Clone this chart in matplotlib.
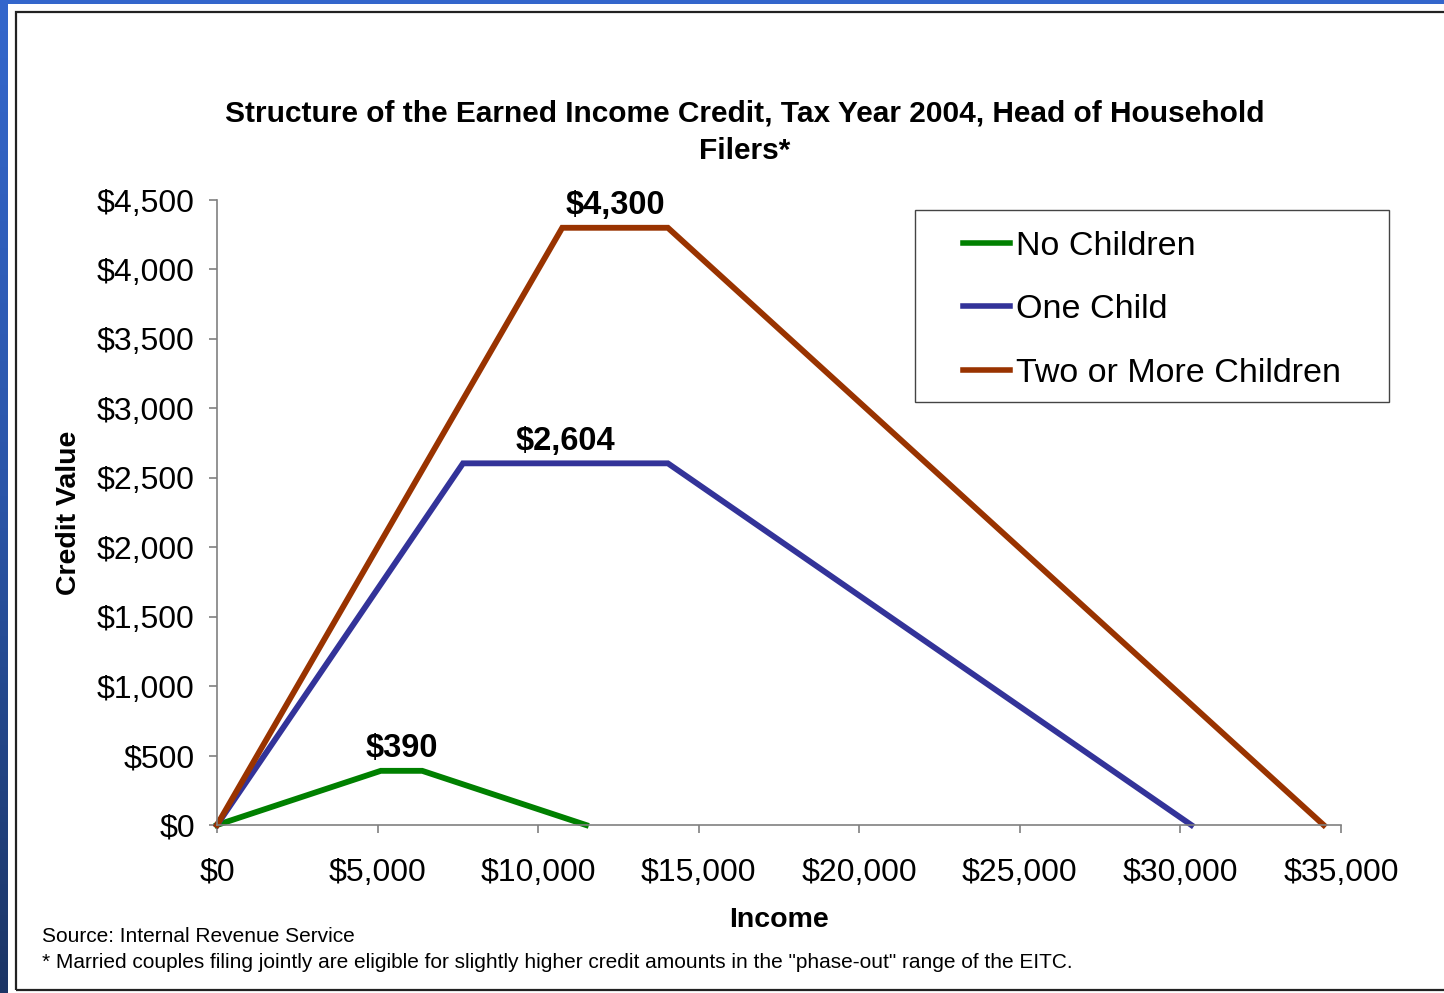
import numpy as np
import matplotlib.pyplot as plt
from matplotlib.patches import Rectangle
from matplotlib.colors import LinearSegmentedColormap
from matplotlib.ticker import FuncFormatter

plt.rcParams['font.family'] = ['Liberation Sans', 'DejaVu Sans']

# EITC 2004 schedule, head of household (income breakpoints -> credit)
series_names = ["No Children", "One Child", "Two or More Children"]
income_none = [0, 5100, 6390, 11490]
credit_none = [0, 390, 390, 0]
income_one = [0, 7660, 14040, 30338]
credit_one = [0, 2604, 2604, 0]
income_two = [0, 10750, 14040, 34458]
credit_two = [0, 4300, 4300, 0]
series_colors = ["#008000", "#333399", "#993300"]

x_ticks = [0, 5000, 10000, 15000, 20000, 25000, 30000, 35000]
y_ticks = [0, 500, 1000, 1500, 2000, 2500, 3000, 3500, 4000, 4500]

W, H = 1444, 993
fig = plt.figure(figsize=(W / 100, H / 100), dpi=100)
fig.patch.set_facecolor("white")


def fx(px):
    return px / W


def fy(py):
    return 1 - py / H


# slide background: blue strip on the left, thin band on top
band = fig.add_axes([0, 0, fx(8), 1])
grad = np.linspace(0, 1, 256).reshape(-1, 1)
cmap = LinearSegmentedColormap.from_list("band", ["#3467cc", "#2a55a8", "#1c3565"])
band.imshow(grad, aspect="auto", cmap=cmap, extent=[0, 1, 0, 1], origin="upper")
band.axis("off")
fig.patches.append(Rectangle((0, fy(4)), 1, fy(0) - fy(4), transform=fig.transFigure,
                             facecolor="#3366cc", edgecolor="none", zorder=0))

# chart frame
fig.patches.append(Rectangle((fx(16), fy(990)), 1.0, fy(12) - fy(990),
                             transform=fig.transFigure, facecolor="none",
                             edgecolor="#222222", linewidth=1.6, zorder=1))

ax = fig.add_axes([fx(217), fy(825), fx(1341) - fx(217), fy(200) - fy(825)])
ax.set_facecolor("none")

lines = []
for xs, ys, c, name in zip([income_none, income_one, income_two],
                           [credit_none, credit_one, credit_two],
                           series_colors, series_names):
    ln, = ax.plot(xs, ys, color=c, linewidth=4.2, label=name,
                  solid_joinstyle="miter", clip_on=False)
    lines.append(ln)
    # peak value label over the middle of the plateau
    mid = (xs[1] + xs[2]) / 2
    ax.annotate(f"${ys[1]:,}", xy=(mid, ys[1]), xytext=(0, 16),
                textcoords="offset points", ha="center", va="center",
                fontsize=23.5, fontweight="bold")

ax.set_xlim(0, 35000)
ax.set_ylim(0, 4500)
ax.set_xticks(x_ticks)
ax.set_yticks(y_ticks)
money = FuncFormatter(lambda v, p: f"${int(v):,}")
ax.xaxis.set_major_formatter(money)
ax.yaxis.set_major_formatter(money)

for side in ["top", "right"]:
    ax.spines[side].set_visible(False)
for side in ["left", "bottom"]:
    ax.spines[side].set_color("#808080")
    ax.spines[side].set_linewidth(1.2)
ax.tick_params(axis="both", colors="#808080", labelcolor="black", labelsize=23,
               length=6, width=1.2, direction="out")
ax.tick_params(axis="x", pad=17.5)
ax.tick_params(axis="y", pad=10)

fig.text(fx(745), fy(132.5), "Structure of the Earned Income Credit, Tax Year 2004, Head of Household\nFilers*",
         ha="center", va="center", fontsize=21.5, fontweight="bold", linespacing=1.42)
fig.text(fx(779), fy(920), "Income", ha="center", va="center", fontsize=20.5, fontweight="bold")
fig.text(fx(69), fy(513), "Credit Value", ha="center", va="center", rotation=90,
         fontsize=20.5, fontweight="bold")
fig.text(fx(42), fy(937), "Source: Internal Revenue Service", ha="left", va="center", fontsize=15)
fig.text(fx(42), fy(963),
         '* Married couples filing jointly are eligible for slightly higher credit amounts in the "phase-out" range of the EITC.',
         ha="left", va="center", fontsize=15)

# legend box drawn on its own, entries placed inside it
fig.patches.append(Rectangle((fx(915), fy(402)), fx(1389) - fx(915), fy(210) - fy(402),
                             transform=fig.transFigure, facecolor="white",
                             edgecolor="#444444", linewidth=1.0, zorder=2))
leg = fig.legend(handles=lines, loc="upper left",
                 bbox_to_anchor=(fx(963), fy(231)), bbox_transform=fig.transFigure,
                 borderaxespad=0, borderpad=0, fontsize=24.5, frameon=False,
                 handlelength=1.38, handletextpad=0.18, labelspacing=0.95)
leg.set_zorder(3)
for h in leg.legend_handles:
    h.set_linewidth(4)

fig.savefig("out.png", dpi=100)
